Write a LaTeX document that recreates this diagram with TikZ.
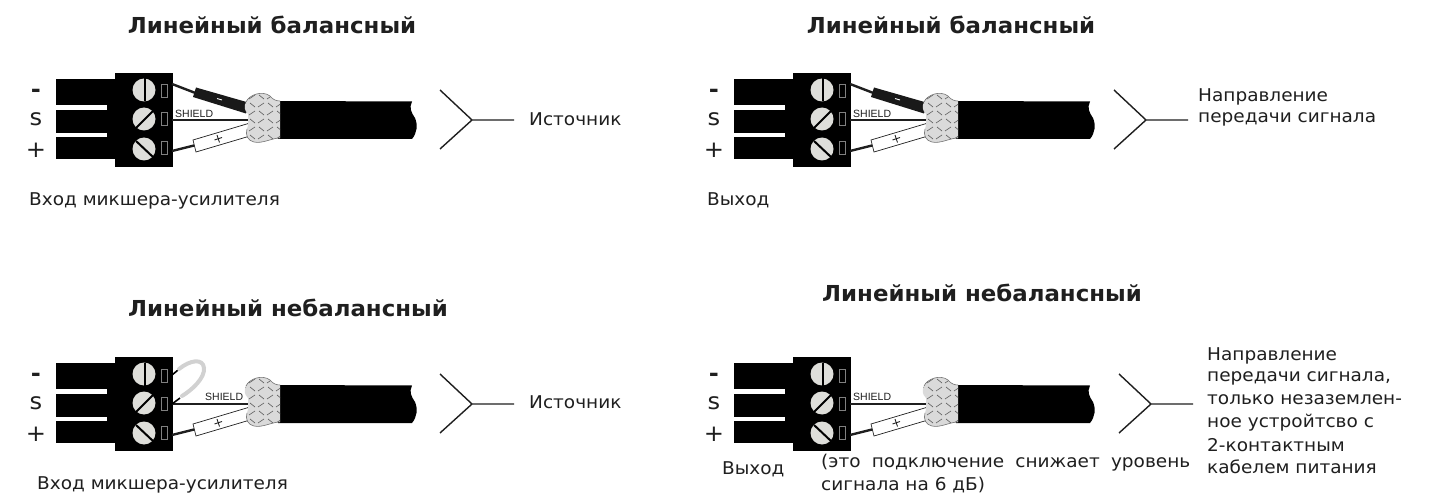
\documentclass[tikz,border=0pt]{standalone}
\usepackage{fontspec}
\setmainfont{DejaVu Sans}[FakeStretch=1.05]
\newfontfamily\titlefont{DejaVu Sans Bold}[FakeStretch=1.04]
\newfontfamily\shieldfont{Liberation Sans}
\usetikzlibrary{calc}
\definecolor{ink}{HTML}{1F1F1F}
\definecolor{screw}{HTML}{DEDEDA}
\definecolor{braid}{HTML}{DADADA}
\tikzset{
 x=1pt,y=-1pt,
 titletext/.style={anchor=center,inner sep=0pt,text=ink,font=\titlefont\fontsize{22}{24}\selectfont},
 bodytext/.style={anchor=west,inner sep=0pt,text=ink,font=\fontsize{17.6}{19}\selectfont},
 signtext/.style={anchor=center,inner sep=0pt,text=ink,font=\fontsize{23}{24}\selectfont},
 fork/.style={draw=ink,line width=1.4pt,line join=miter},
 wirething/.style={draw=ink,line width=2.4pt},
 sleeve/.style={draw=ink,line width=.7pt,fill=white},
 slotline/.style={draw=black,line width=2pt},
 contact/.style={draw=black!50,line width=1pt},
 shieldtext/.style={inner sep=0pt,text=ink,font=\shieldfont\fontsize{10.5}{12}\selectfont},
}
\newcommand{\connectorbase}{%
 % legs
 \fill[black] (56,79) rectangle (116,105);
 \fill[black] (56,110) rectangle (116,133);
 \fill[black] (56,137) rectangle (116,159);
 \fill[black] (107,104) rectangle (116,138);
 % body
 \fill[black] (115,73) rectangle (172.5,167);
 % screws
 \foreach \sy in {90,119,149} \fill[screw] (144,\sy) circle (11.5);
 \draw[slotline] (145,78.5) -- (145,101.5);
 \draw[slotline] (136,128) -- (153,111);
 \draw[slotline] (136,141) -- (153,157);
 % contacts
 \draw[contact] (161.5,85) rectangle (167.5,98);
 \draw[contact] (161.5,113) rectangle (167.5,126);
 \draw[contact] (161.5,142) rectangle (167.5,155);
 % cable
 \fill[black] (278,101) -- (412,101.5)
   .. controls (409,108) and (411,112) .. (415,118)
   .. controls (418,125) and (417,133) .. (412,139) -- (278,139) -- cycle;
 % shield wire
 \draw[wirething] (172,120) -- (250,120);
 % plus wire and sleeve
 \draw[wirething] (172,151) -- (196,145);
 \draw[sleeve] (193,140) -- (250,123) -- (250,136) -- (196,152) -- cycle;
 \draw[ink,line width=.9pt] (214.5,140) -- (222,137.5) (217,135) -- (219.5,142.5);
}
\newcommand{\braidoutline}{(246,102) .. controls (249,95) and (262,90) .. (270,96)
    .. controls (273,100) and (277,101) .. (280,101) -- (280,138)
    .. controls (272,138) and (262,144) .. (254,142)
    .. controls (248,141) and (245,135) .. (247,129)
    .. controls (249,124) and (248,118) .. (248,114)
    .. controls (244,110) and (244,106) .. (246,102) -- cycle}
\newcommand{\connectorbraid}{%
 \fill[braid] \braidoutline;
 \begin{scope}
  \path[clip] \braidoutline;
  \foreach \bx [count=\ci] in {240,249,258,267,276}{
   \foreach \by [count=\cj] in {88,96,104,112,120,128,136}{
    \pgfmathparse{int(mod(\ci+\cj,2))}
    \ifnum\pgfmathresult=0
     \draw[black!62,line width=.65pt] (\bx,\by+3) -- (\bx+6,\by-1);
    \else
     \draw[black!62,line width=.65pt] (\bx+1,\by-1) -- (\bx+6,\by+3);
    \fi
   }
  }
 \end{scope}
 \draw[black!55,line width=.6pt] (246,102) .. controls (249,95) and (262,90) .. (270,96)
    .. controls (273,100) and (277,101) .. (280,101);
 \draw[black!55,line width=.6pt] (280,138)
    .. controls (272,138) and (262,144) .. (254,142)
    .. controls (248,141) and (245,135) .. (247,129);
}
\newcommand{\minuswire}{%
 \draw[wirething] (172,84) -- (198,94);
 \fill[black!90] (196,87.5) -- (250,103) -- (246,113.5) -- (193,97) -- cycle;
 \draw[white,line width=.9pt] (217,98.5) -- (222,100);
}
\begin{document}
\begin{tikzpicture}
\useasboundingbox (0,0) rectangle (1430,497);
\fill[white] (0,0) rectangle (1430,497);
% panels
\begin{scope}[shift={(0,0)}]
 \connectorbase \minuswire \connectorbraid
 \node[shieldtext,anchor=west] (sa) at (175,113.5) {SHIELD};
\end{scope}
\begin{scope}[shift={(678,0)}]
 \connectorbase \minuswire \connectorbraid
 \node[shieldtext,anchor=west] (sb) at (175,113.5) {SHIELD};
\end{scope}
\begin{scope}[shift={(0,284)}]
 \connectorbase
 \draw[black,line width=1.6pt] (172,91) -- (178,86);
 \draw[black,line width=1.6pt] (172,120) -- (180,114);
 \draw[black!18,line width=4pt,line cap=round] (179,85) .. controls (190,76) and (203,74) .. (204,84)
   .. controls (205,94) and (192,106) .. (182,112);
 \connectorbraid
 \node[shieldtext,anchor=west] (sc) at (205,112.5) {SHIELD};
\end{scope}
\begin{scope}[shift={(678,284)}]
 \connectorbase \connectorbraid
 \node[shieldtext,anchor=west] (sd) at (175,112.5) {SHIELD};
\end{scope}
% forks
\coordinate (fa1) at (440,90); \coordinate (fa2) at (472,120); \coordinate (fa3) at (440,149); \coordinate (fa4) at (514,120);
\draw[fork] (fa1) -- (fa2) -- (fa3) (fa2) -- (fa4);
\coordinate (fb1) at (1114,90); \coordinate (fb2) at (1146,120); \coordinate (fb3) at (1114,149); \coordinate (fb4) at (1188,120);
\draw[fork] (fb1) -- (fb2) -- (fb3) (fb2) -- (fb4);
\coordinate (fc1) at (440,374); \coordinate (fc2) at (472,404); \coordinate (fc3) at (440,433); \coordinate (fc4) at (514,404);
\draw[fork] (fc1) -- (fc2) -- (fc3) (fc2) -- (fc4);
\coordinate (fd1) at (1119,374); \coordinate (fd2) at (1151,404); \coordinate (fd3) at (1119,433); \coordinate (fd4) at (1193,404);
\draw[fork] (fd1) -- (fd2) -- (fd3) (fd2) -- (fd4);
% signs
\foreach \nm/\sx/\sy in {a/36/0,b/714/0,c/36/284,d/714/284}{
 \node[signtext] (m\nm) at (\sx,\sy+93) {\textbf{-}};
 \node[signtext] (s\nm) at (\sx,\sy+119.5) {s};
 \node[signtext] (p\nm) at (\sx,\sy+150) {+};
}
% titles
\node[titletext] (t1) at (272,25) {Линейный балансный};
\node[titletext] (t2) at (951,25) {Линейный балансный};
\node[titletext] (t3) at (288,308) {Линейный небалансный};
\node[titletext] (t4) at (982,293) {Линейный небалансный};
% labels
\node[bodytext] (l1) at (529,119) {Источник};
\node[bodytext] (l2) at (29,201) {Вход микшера-усилителя};
\node[bodytext] (l3) at (707,200.5) {Выход};
\node[bodytext] (l4) at (1198,97) {Направление};
\node[bodytext] (l5) at (1198,119) {передачи сигнала};
\node[bodytext] (l6) at (529,402) {Источник};
\node[bodytext] (l7) at (37,485) {Вход микшера-усилителя};
\node[bodytext] (l8) at (722,469) {Выход};
\node[bodytext,text width=369pt,align=justify,anchor=north west] (l9) at (821,454) {\parfillskip=0pt (это подключение снижает уровень\par};
\node[bodytext] (l10) at (821,485) {сигнала на 6 дБ)};
\node[bodytext] (r1) at (1207,356) {Направление};
\node[bodytext] (r2) at (1207,378) {передачи сигнала,};
\node[bodytext] (r3) at (1207,400) {только незаземлен-};
\node[bodytext] (r4) at (1207,423) {ное устройтсво с};
\node[bodytext] (r5) at (1207,445) {2-контактным};
\node[bodytext] (r6) at (1207,467) {кабелем питания};
\end{tikzpicture}
\end{document}
